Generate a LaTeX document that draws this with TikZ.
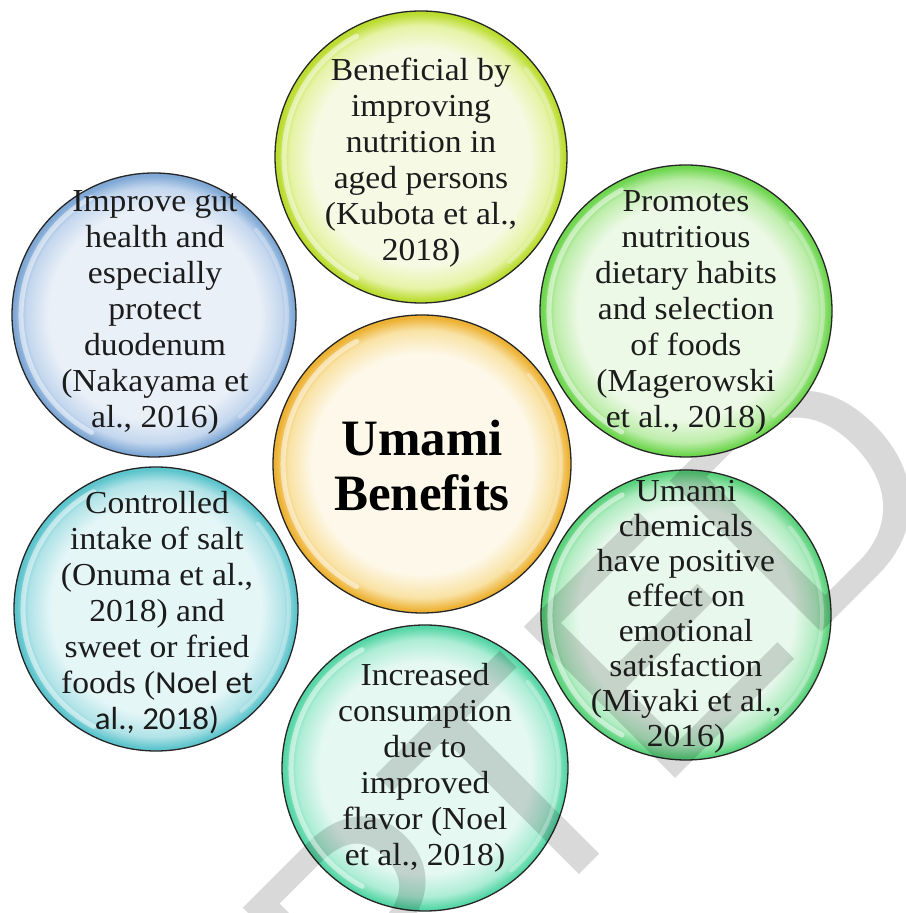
\documentclass[tikz,border=0pt]{standalone}
\usepackage{fontspec}
\setmainfont{Liberation Serif}
\newfontfamily\widefont{Liberation Serif}[FakeStretch=1.05]
\newfontfamily\carl{Carlito}[FakeStretch=1.03]
\newfontfamily\wmfont{Liberation Sans}
\definecolor{bubin}{HTML}{FFFFFF}
\definecolor{bubmid}{HTML}{DDDDDD}
\definecolor{bubout}{HTML}{999999}
\pgfdeclareradialshading[bubin,bubmid,bubout]{bubble}{\pgfpoint{0bp}{0bp}}{color(0bp)=(bubin); color(18.5bp)=(bubin); color(22.5bp)=(bubmid); color(24.6bp)=(bubout); color(25bp)=(bubout); color(50bp)=(bubout)}
\definecolor{topin}{HTML}{F6FAE4}\definecolor{topmid}{HTML}{E6F3A6}\definecolor{topout}{HTML}{BADC2E}
\definecolor{tlin}{HTML}{EAF0F8}\definecolor{tlmid}{HTML}{C4D7EE}\definecolor{tlout}{HTML}{7FA8D5}
\definecolor{trin}{HTML}{EDF9E7}\definecolor{trmid}{HTML}{BDEDAA}\definecolor{trout}{HTML}{6ED64F}
\definecolor{blin}{HTML}{E5F6F7}\definecolor{blmid}{HTML}{B0E3E7}\definecolor{blout}{HTML}{5CC4CC}
\definecolor{brin}{HTML}{E9F8ED}\definecolor{brmid}{HTML}{B0ECC1}\definecolor{brout}{HTML}{5AD27C}
\definecolor{btin}{HTML}{E5F8F2}\definecolor{btmid}{HTML}{ADEDD6}\definecolor{btout}{HTML}{56D6A6}
\definecolor{cin}{HTML}{FDF8E9}\definecolor{cmid}{HTML}{F9E2A4}\definecolor{cout}{HTML}{EDB234}
\definecolor{txtc}{HTML}{1C1C1C}
\tikzset{
  bub/.style n args={3}{circle, draw=black!85, line width=1.3pt, inner sep=0pt,
    /utils/exec={\colorlet{bubin}{#1}\colorlet{bubmid}{#2}\colorlet{bubout}{#3}},
    shading=bubble},
  hl/.style={white, opacity=0.5, line width=5pt, line cap=round},
  hlr/.style={white, opacity=0.3, line width=4pt, line cap=round},
  txt/.style={align=center, font=\fontsize{32}{36}\selectfont\widefont, text=txtc, inner sep=0pt},
  ctxt/.style={align=center, font=\fontsize{51}{55}\selectfont\bfseries, text=black, inner sep=0pt},
  wmark/.style={rotate=45, anchor=base east, inner sep=0pt, font=\fontsize{311}{311}\selectfont\wmfont, text=black, text opacity=0.15}
}
\newcommand\glossy[2]{%
  \draw[hl] ([shift={(118:#2)}]#1.center) arc[start angle=118,end angle=242,radius=#2];
  \draw[hlr] ([shift={(-50:#2)}]#1.center) arc[start angle=-50,end angle=40,radius=#2];}
\begin{document}
\begin{tikzpicture}[x=1pt,y=1pt]
\useasboundingbox (0,0) rectangle (905,913);
\fill[white] (0,0) rectangle (905,913);
% circles
\node[bub={topin}{topmid}{topout}, minimum size=292pt] (top) at (421,756) {};
\node[bub={tlin}{tlmid}{tlout}, minimum size=284pt] (tl) at (154,598) {};
\node[bub={blin}{blmid}{blout}, minimum size=284pt] (bl) at (156,304) {};
\node[bub={brin}{brmid}{brout}, minimum size=290pt] (br) at (686,298) {};
\node[bub={btin}{btmid}{btout}, minimum size=286pt] (bt) at (425,145) {};
\node[bub={cin}{cmid}{cout}, minimum size=298pt] (ctr) at (422,449) {};
% watermark
\begin{scope}
\clip (0,0) rectangle (905,913);
\node[wmark] (wm) at (963,422) {ACCEPTED};
\end{scope}
\node[bub={trin}{trmid}{trout}, minimum size=292pt] (tr) at (686,602) {};
% glossy highlights
\glossy{top}{137}
\glossy{tl}{133}
\glossy{tr}{137}
\glossy{bl}{133}
\glossy{br}{136}
\glossy{bt}{134}
\glossy{ctr}{139}
% texts
\node[txt] (ttop) at (421,750) {Beneficial by\\improving\\nutrition in\\aged persons\\(Kubota et al.,\\2018)};
\node[txt] (ttl) at (155,601) {Improve gut\\health and\\especially\\protect\\duodenum\\(Nakayama et\\al., 2016)};
\node[txt] (ttr) at (686,601) {Promotes\\nutritious\\dietary habits\\and selection\\of foods\\(Magerowski\\et al., 2018)};
\node[txt] (tbl) at (157,300) {Controlled\\intake of salt\\(Onuma et al.,\\2018) and\\sweet or fried\\foods ({\carl Noel et}\\{\carl al., 2018)}};
\node[txt, font=\fontsize{32}{35}\selectfont\widefont] (tbr) at (686,296) {Umami\\chemicals\\have positive\\effect on\\emotional\\satisfaction\\(Miyaki et al.,\\2016)};
\node[txt] (tbt) at (425,145) {Increased\\consumption\\due to\\improved\\flavor (Noel\\et al., 2018)};
\node[ctxt] (tctr) at (422,447) {Umami\\Benefits};
\end{tikzpicture}
\end{document}
